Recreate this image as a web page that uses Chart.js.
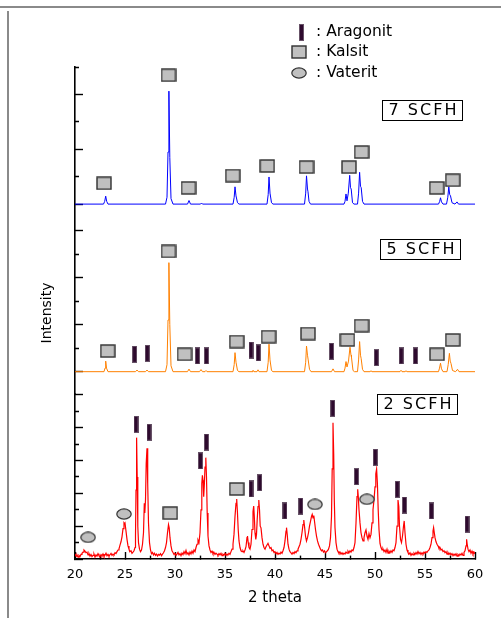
<!DOCTYPE html>
<html>
<head>
<meta charset="utf-8">
<title>XRD CaCO3</title>
<script src="https://cdn.jsdelivr.net/npm/chart.js@4.4.0/dist/chart.umd.min.js"></script>
<style>
  html, body { margin: 0; padding: 0; background: #fff; }
  #wrap { position: relative; width: 501px; height: 618px; overflow: hidden; }
  #frameTop { position: absolute; left: 0; top: 6px; width: 501px; height: 2px; background: #8a8a8a; }
  #frameLeft { position: absolute; left: 7px; top: 11px; width: 2px; height: 607px; background: #8a8a8a; }
  canvas { position: absolute; left: 0; top: 0; }
</style>
</head>
<body>
<div id="wrap">
  <div id="frameTop"></div>
  <div id="frameLeft"></div>
  <canvas id="xrdChart" width="501" height="618"></canvas>
</div>
<script>
// x axis: 2 theta
const xTickValues = [20, 22.5, 25, 27.5, 30, 32.5, 35, 37.5, 40, 42.5, 45, 47.5, 50, 52.5, 55, 57.5, 60];
const xTickLabels = ['20', '', '25', '', '30', '', '35', '', '40', '', '45', '', '50', '', '55', '', '60'];

// y ticks per panel (arbitrary intensity units)
const yTicks7 = [0, 1, 2, 3, 4, 5];
const yTicks5 = [0, 1, 2, 3, 4, 5, 6];
const yTicks2 = [0, 1, 2, 3, 4, 5, 6, 7, 8, 9, 10];
const yRange7 = [-0.97, 5];
const yRange5 = [-0.95, 6];
const yRange2 = [0, 10.06];

const panelNames = ['7 SCFH', '5 SCFH', '2 SCFH'];
const phaseNames = ['Aragonit', 'Kalsit', 'Vaterit'];

// diffractograms [2theta, intensity]
const scfh7 = [[20,0],[22.85,0],[22.97,0.1],[23.07,0.29],[23.17,0.1],[23.3,0],
  [29.05,0],[29.2,0.25],[29.3,1.9],[29.39,4.12],[29.48,1.7],[29.6,0.2],[29.8,0],
  [31.25,0],[31.4,0.13],[31.55,0],[32.55,0],[32.65,0.04],[32.75,0],
  [35.8,0],[35.92,0.25],[36.0,0.63],[36.1,0.3],[36.25,0.05],[36.4,0],
  [39.2,0],[39.32,0.35],[39.4,0.99],[39.5,0.4],[39.65,0.05],[39.8,0],
  [42.95,0],[43.07,0.4],[43.15,1.03],[43.25,0.55],[43.3,0.45],[43.4,0.1],[43.55,0],
  [46.9,0],[47.0,0.1],[47.1,0.37],[47.2,0.12],[47.33,0.4],[47.47,1.05],[47.55,0.6],[47.62,0.55],[47.75,0.05],[47.9,0],
  [48.25,0],[48.36,0.4],[48.46,1.16],[48.55,0.65],[48.62,0.6],[48.75,0.1],[48.9,0],
  [56.35,0],[56.47,0.1],[56.55,0.23],[56.65,0.08],[56.8,0],
  [57.15,0],[57.28,0.25],[57.38,0.63],[57.47,0.35],[57.55,0.3],[57.7,0.05],[58.0,0],[58.2,0.08],[58.35,0],[60,0]];

const scfh5 = [[20,0],[22.9,0],[23.0,0.15],[23.07,0.45],[23.15,0.15],[23.3,0],
  [26.05,0],[26.2,0.07],[26.35,0],[27.05,0],[27.2,0.07],[27.35,0],
  [29.05,0],[29.2,0.3],[29.3,2.2],[29.39,4.64],[29.48,2.0],[29.6,0.25],[29.8,0],
  [31.25,0],[31.4,0.11],[31.55,0],[32.45,0],[32.6,0.09],[32.75,0],[33.0,0],[33.1,0.05],[33.2,0],
  [35.8,0],[35.92,0.3],[36.0,0.81],[36.1,0.4],[36.25,0.05],[36.4,0],
  [37.7,0],[37.8,0.06],[37.9,0],[38.2,0],[38.3,0.08],[38.4,0],
  [39.2,0],[39.32,0.4],[39.4,1.17],[39.5,0.5],[39.65,0.05],[39.8,0],
  [42.95,0],[43.07,0.4],[43.15,1.09],[43.25,0.7],[43.32,0.5],[43.45,0.1],[43.6,0],
  [45.65,0],[45.8,0.12],[45.95,0],
  [46.9,0],[47.0,0.15],[47.1,0.43],[47.2,0.2],[47.35,0.45],[47.5,1.04],[47.6,0.7],[47.65,0.6],[47.8,0.05],[47.95,0],
  [48.25,0],[48.36,0.5],[48.46,1.28],[48.55,0.7],[48.62,0.55],[48.75,0.1],[48.9,0],
  [49.5,0],[49.6,0.04],[49.7,0],[52.5,0],[52.6,0.06],[52.7,0],[53.0,0],[53.1,0.04],[53.2,0],
  [56.35,0],[56.45,0.15],[56.55,0.36],[56.65,0.12],[56.8,0],
  [57.2,0],[57.32,0.3],[57.44,0.78],[57.52,0.45],[57.6,0.35],[57.75,0.05],[58.05,0],[58.25,0.1],[58.4,0],[60,0]];

const scfh2 = [[20.0,0.30],[20.1,0.18],[20.2,0.25],[20.3,0.12],[20.4,0.22],[20.5,0.15],[20.6,0.28],[20.7,0.35],[20.8,0.42],[20.9,0.55],
  [21.0,0.48],[21.1,0.38],[21.2,0.42],[21.3,0.25],[21.4,0.33],[21.5,0.18],[21.6,0.28],[21.7,0.15],[21.8,0.22],[21.9,0.30],
  [22.0,0.12],[22.1,0.25],[22.2,0.18],[22.3,0.32],[22.4,0.20],[22.5,0.14],[22.6,0.27],[22.7,0.19],[22.8,0.31],[22.9,0.16],
  [23.0,0.24],[23.1,0.35],[23.2,0.20],[23.3,0.28],[23.4,0.17],[23.5,0.26],[23.6,0.34],[23.7,0.22],[23.8,0.30],[23.9,0.25],
  [24.0,0.38],[24.1,0.33],[24.2,0.45],[24.3,0.55],[24.4,0.62],[24.5,0.85],[24.6,1.05],[24.7,1.35],[24.8,1.85],[24.9,2.2],
  [24.95,2.15],[25.0,2.2],[25.1,1.7],[25.2,1.2],[25.3,0.8],[25.4,0.6],[25.5,0.45],[25.6,0.5],[25.7,0.35],[25.8,0.42],
  [25.9,0.5],[26.0,0.7],[26.05,1.4],[26.1,4.2],[26.16,7.4],[26.22,5.0],[26.28,2.0],[26.35,1.0],[26.45,0.6],[26.55,0.45],
  [26.65,0.55],[26.75,0.9],[26.85,1.6],[26.93,3.4],[26.98,2.8],[27.05,3.6],[27.12,5.8],[27.2,6.75],[27.27,4.6],[27.35,2.2],
  [27.45,1.0],[27.55,0.55],[27.65,0.32],[27.75,0.4],[27.85,0.25],[27.95,0.35],[28.05,0.22],[28.15,0.3],[28.25,0.18],[28.35,0.28],
  [28.45,0.24],[28.55,0.33],[28.65,0.2],[28.75,0.3],[28.85,0.38],[28.95,0.5],[29.05,0.7],[29.15,1.0],[29.25,1.6],[29.35,2.1],
  [29.42,1.9],[29.5,1.3],[29.6,0.8],[29.7,0.5],[29.8,0.4],[29.9,0.28],[30.0,0.35],[30.1,0.22],[30.2,0.3],[30.3,0.4],
  [30.4,0.25],[30.5,0.33],[30.6,0.2],[30.7,0.36],[30.8,0.27],[30.9,0.45],[31.0,0.32],[31.1,0.52],[31.2,0.3],[31.3,0.38],
  [31.4,0.25],[31.5,0.42],[31.6,0.3],[31.7,0.48],[31.8,0.35],[31.9,0.55],[32.0,0.45],[32.1,0.7],[32.2,0.9],[32.3,1.15],
  [32.4,1.0],[32.5,1.6],[32.6,3.0],[32.68,4.6],[32.74,5.1],[32.8,4.8],[32.87,3.8],[32.94,4.6],[33.0,5.6],[33.08,6.18],
  [33.15,5.0],[33.22,2.8],[33.3,1.4],[33.4,0.8],[33.5,0.55],[33.6,0.4],[33.7,0.48],[33.8,0.32],[33.9,0.4],[34.0,0.28],
  [34.1,0.36],[34.2,0.3],[34.3,0.22],[34.4,0.33],[34.5,0.25],[34.6,0.35],[34.7,0.2],[34.8,0.3],[34.9,0.24],[35.0,0.34],
  [35.1,0.22],[35.2,0.3],[35.3,0.26],[35.4,0.35],[35.5,0.28],[35.6,0.45],[35.7,0.6],[35.8,0.9],[35.9,1.5],[36.0,2.6],
  [36.1,3.4],[36.17,3.66],[36.24,2.9],[36.32,1.8],[36.4,1.1],[36.5,0.7],[36.6,0.5],[36.7,0.45],[36.8,0.5],[36.9,0.4],
  [37.0,0.55],[37.1,0.75],[37.2,1.3],[37.25,1.4],[37.32,1.0],[37.4,0.7],[37.5,0.6],[37.6,0.9],[37.7,1.8],[37.8,2.9],
  [37.87,3.23],[37.93,2.6],[38.0,1.6],[38.08,1.2],[38.15,1.5],[38.22,2.4],[38.3,3.2],[38.38,3.6],[38.45,3.0],[38.52,2.0],
  [38.6,1.9],[38.7,1.3],[38.8,0.9],[38.9,0.7],[39.0,0.6],[39.1,0.75],[39.2,0.85],[39.3,0.95],[39.4,0.8],[39.5,0.65],
  [39.6,0.7],[39.7,0.5],[39.8,0.55],[39.9,0.4],[40.0,0.45],[40.1,0.32],[40.2,0.4],[40.3,0.28],[40.4,0.36],[40.5,0.3],
  [40.6,0.42],[40.7,0.35],[40.8,0.5],[40.9,0.7],[41.0,1.1],[41.1,1.7],[41.15,1.91],[41.22,1.5],[41.3,0.9],[41.4,0.6],
  [41.5,0.45],[41.6,0.38],[41.7,0.3],[41.8,0.4],[41.9,0.33],[42.0,0.45],[42.1,0.38],[42.2,0.5],[42.3,0.6],[42.4,0.75],
  [42.5,0.9],[42.6,1.2],[42.7,1.6],[42.8,2.1],[42.88,2.38],[42.95,2.0],[43.05,1.4],[43.15,1.1],[43.25,1.3],[43.35,1.6],
  [43.45,2.0],[43.55,2.3],[43.65,2.6],[43.72,2.72],[43.8,2.5],[43.88,2.65],[43.95,2.3],[44.05,1.8],[44.15,1.4],[44.25,1.1],
  [44.35,0.9],[44.45,0.75],[44.55,0.6],[44.65,0.5],[44.75,0.55],[44.85,0.42],[44.95,0.5],[45.05,0.38],[45.15,0.45],[45.25,0.5],
  [45.35,0.6],[45.45,0.8],[45.55,1.3],[45.65,2.6],[45.72,5.5],[45.8,8.31],[45.87,6.4],[45.93,3.6],[46.0,1.9],[46.1,1.0],
  [46.2,0.6],[46.3,0.45],[46.4,0.35],[46.5,0.42],[46.6,0.3],[46.7,0.38],[46.8,0.28],[46.9,0.36],[47.0,0.3],[47.1,0.42],
  [47.2,0.35],[47.3,0.48],[47.4,0.38],[47.5,0.5],[47.6,0.42],[47.7,0.55],[47.8,0.5],[47.9,0.7],[48.0,1.0],[48.1,2.2],
  [48.2,3.8],[48.27,4.25],[48.33,3.8],[48.4,3.0],[48.5,2.2],[48.6,1.6],[48.7,1.3],[48.8,1.1],[48.9,1.3],[49.0,1.6],
  [49.1,1.77],[49.2,1.4],[49.3,1.2],[49.4,1.55],[49.5,1.3],[49.6,1.5],[49.7,2.2],[49.8,3.0],[49.9,3.6],[50.0,4.4],
  [50.08,5.2],[50.16,5.49],[50.24,4.6],[50.32,3.0],[50.4,1.8],[50.5,0.95],[50.6,0.7],[50.7,0.55],[50.8,0.62],[50.9,0.45],
  [51.0,0.55],[51.1,0.4],[51.2,0.6],[51.3,0.35],[51.4,0.48],[51.5,0.38],[51.6,0.5],[51.7,0.4],[51.8,0.55],[51.9,0.5],
  [52.0,0.7],[52.1,1.0],[52.2,2.0],[52.3,3.6],[52.38,3.2],[52.45,2.0],[52.55,1.2],[52.65,1.0],[52.75,1.4],[52.85,2.0],
  [52.92,2.32],[53.0,1.6],[53.1,0.9],[53.2,0.55],[53.3,0.4],[53.4,0.3],[53.5,0.38],[53.6,0.22],[53.7,0.33],[53.8,0.25],
  [53.9,0.36],[54.0,0.28],[54.1,0.4],[54.2,0.3],[54.3,0.45],[54.4,0.32],[54.5,0.4],[54.6,0.28],[54.7,0.38],[54.8,0.3],
  [54.9,0.42],[55.0,0.35],[55.1,0.45],[55.2,0.4],[55.3,0.5],[55.4,0.55],[55.5,0.7],[55.6,0.9],[55.7,1.3],[55.8,1.7],
  [55.86,1.91],[55.93,1.6],[56.0,1.3],[56.1,1.05],[56.2,0.9],[56.3,0.8],[56.4,0.65],[56.5,0.7],[56.6,0.55],[56.7,0.6],
  [56.8,0.45],[56.9,0.5],[57.0,0.38],[57.1,0.45],[57.2,0.3],[57.3,0.4],[57.4,0.28],[57.5,0.36],[57.6,0.25],[57.7,0.33],
  [57.8,0.2],[57.9,0.3],[58.0,0.22],[58.1,0.32],[58.2,0.18],[58.3,0.28],[58.4,0.2],[58.5,0.3],[58.6,0.24],[58.7,0.35],
  [58.8,0.22],[58.9,0.4],[59.0,0.5],[59.1,0.8],[59.16,1.2],[59.22,0.9],[59.3,0.6],[59.4,0.45],[59.5,0.55],[59.6,0.35],
  [59.7,0.48],[59.8,0.3],[59.9,0.42],[60.0,0.3]];

// phase markers [2theta, height]
const kalsit7 = [[22.9,0.76],[29.35,4.7],[31.35,0.59],[35.77,1.04],[39.22,1.39],[43.15,1.35],[47.4,1.35],[48.66,1.9],[56.17,0.59],[57.77,0.87]];
const kalsit5 = [[23.27,0.88],[29.35,5.12],[30.95,0.74],[36.17,1.28],[39.36,1.49],[43.3,1.62],[47.24,1.35],[48.66,1.96],[56.2,0.74],[57.77,1.35]];
const aragonit5 = [[25.96,0.74],[27.23,0.78],[32.24,0.67],[33.14,0.67],[37.6,0.92],[38.33,0.8],[45.65,0.87],[50.13,0.6],[52.62,0.67],[54.05,0.67]];
const kalsit2 = [[29.52,2.8],[36.17,4.27]];
const vaterit2 = [[21.31,1.32],[24.9,2.74],[44.0,3.33],[49.19,3.64]];
const aragonit2 = [[26.1,8.21],[27.4,7.73],[32.54,5.98],[33.14,7.13],[37.6,4.27],[38.47,4.65],[40.99,2.93],[42.58,3.23],
  [45.77,9.19],[48.14,5.02],[50.03,6.2],[52.22,4.25],[52.95,3.29],[55.64,2.93],[59.2,2.13]];

const FONT = '"DejaVu Sans", "Liberation Sans", sans-serif';

function makeMarker(kind) {
    const c = document.createElement('canvas');
    if (kind === 'aragonit') {
        c.width = 5; c.height = 17;
        const g = c.getContext('2d');
        g.fillStyle = '#2e0a2e';
        g.fillRect(0, 0, 5, 17);
        g.strokeStyle = 'rgba(110,90,110,0.9)';
        g.lineWidth = 1;
        g.strokeRect(0.5, 0.5, 4, 16);
    } else if (kind === 'kalsit') {
        c.width = 16; c.height = 14;
        const g = c.getContext('2d');
        g.fillStyle = '#c0c0c0';
        g.fillRect(1, 1, 14, 12);
        g.strokeStyle = '#303030';
        g.lineWidth = 1.4;
        g.strokeRect(1, 1, 14, 12);
    } else {
        c.width = 16; c.height = 12;
        const g = c.getContext('2d');
        g.beginPath();
        g.ellipse(8, 6, 7.2, 5.1, 0, 0, Math.PI * 2);
        g.fillStyle = '#c0c0c0';
        g.fill();
        g.strokeStyle = '#303030';
        g.lineWidth = 1.2;
        g.stroke();
    }
    return c;
}

const markers = {
    aragonit: makeMarker('aragonit'),
    kalsit: makeMarker('kalsit'),
    vaterit: makeMarker('vaterit')
};

function trace(data, color, axis, width) {
    return { data: data, yAxisID: axis, showLine: true, borderColor: color, borderWidth: width,
             pointRadius: 0, tension: 0, order: 2 };
}

function marks(data, style, axis) {
    return { data: data, yAxisID: axis, showLine: false, pointStyle: style, pointRadius: 8, order: 1 };
}

function panelAxis(range, ticks, weight, order) {
    return {
        type: 'linear',
        position: 'left',
        stack: 'xrd',
        stackWeight: weight,
        weight: order,
        bounds: 'data',
        min: range[0],
        max: range[1],
        afterBuildTicks: s => { s.ticks = ticks.map(v => ({ value: v })); },
        afterFit: s => { s.width = 75; },
        ticks: { display: false },
        grid: {
            drawOnChartArea: false,
            tickLength: -8,
            tickColor: '#000',
            tickWidth: 1.4,
            tickBorderDash: c => (c.tick && c.tick.value % 2) ? [0, 4, 4, 40] : []
        },
        border: { color: '#000', width: 1.6 }
    };
}

// panel label boxes, legend and y title
const overlay = {
    id: 'overlay',
    afterDraw(chart) {
        const ctx = chart.ctx;
        const area = chart.chartArea;
        const x = chart.scales.x;
        const boxes = [
            { axis: 'y7', at: [54.65, 3.45] },
            { axis: 'y5', at: [54.5, 5.24] },
            { axis: 'y2', at: [54.15, 9.48] }
        ];
        ctx.save();
        boxes.forEach((b, i) => {
            const cx = Math.round(x.getPixelForValue(b.at[0]));
            const cy = Math.round(chart.scales[b.axis].getPixelForValue(b.at[1]));
            ctx.fillStyle = '#fff';
            ctx.fillRect(cx - 40, cy - 10, 81, 21);
            ctx.strokeStyle = '#000';
            ctx.lineWidth = 1;
            ctx.strokeRect(cx - 40 + 0.5, cy - 10 + 0.5, 80, 20);
            ctx.fillStyle = '#000';
            ctx.font = '16px ' + FONT;
            ctx.letterSpacing = '2px';
            ctx.textAlign = 'center';
            ctx.textBaseline = 'middle';
            ctx.fillText(panelNames[i], cx + 1.5, cy + 1);
        });
        ctx.letterSpacing = '0px';

        // legend
        const lx = area.left + 224;
        const rows = [area.top - 35, area.top - 15, area.top + 5.5];
        const syms = [markers.aragonit, markers.kalsit, markers.vaterit];
        ctx.font = '15.5px ' + FONT;
        ctx.textAlign = 'left';
        ctx.textBaseline = 'middle';
        ctx.fillStyle = '#000';
        phaseNames.forEach((name, i) => {
            const s = syms[i];
            const sx = i === 0 ? lx + 2 : lx;
            ctx.drawImage(s, Math.round(sx - s.width / 2), Math.round(rows[i] - s.height / 2));
            ctx.fillText(': ' + name, lx + 17, rows[i]);
        });

        // y axis title
        ctx.translate(area.left - 28, (area.top + area.bottom) / 2);
        ctx.rotate(-Math.PI / 2);
        ctx.font = '14px ' + FONT;
        ctx.textAlign = 'center';
        ctx.fillText('Intensity', 0, 0);
        ctx.restore();
    }
};

new Chart(document.getElementById('xrdChart'), {
    type: 'scatter',
    data: {
        datasets: [
            trace(scfh7, '#0000ff', 'y7', 1),
            trace(scfh5, '#ff8000', 'y5', 1),
            trace(scfh2, '#ff0000', 'y2', 1.2),
            marks(kalsit7, markers.kalsit, 'y7'),
            marks(kalsit5, markers.kalsit, 'y5'),
            marks(aragonit5, markers.aragonit, 'y5'),
            marks(kalsit2, markers.kalsit, 'y2'),
            marks(vaterit2, markers.vaterit, 'y2'),
            marks(aragonit2, markers.aragonit, 'y2')
        ]
    },
    options: {
        responsive: false,
        animation: false,
        events: [],
        layout: { padding: { top: 67, right: 26, bottom: 0, left: 0 } },
        plugins: {
            legend: { display: false },
            tooltip: { enabled: false }
        },
        scales: {
            x: {
                type: 'linear',
                position: 'bottom',
                min: 20,
                max: 60,
                bounds: 'data',
                afterBuildTicks: s => { s.ticks = xTickValues.map(v => ({ value: v })); },
                afterFit: s => { s.height = 59; },
                ticks: {
                    autoSkip: false,
                    maxRotation: 0,
                    padding: 15,
                    color: '#000',
                    font: { family: FONT, size: 13 },
                    callback: (v, i) => xTickLabels[i]
                },
                grid: {
                    drawOnChartArea: false,
                    tickLength: -7,
                    tickColor: '#000',
                    tickWidth: 1.4,
                    tickBorderDash: c => (c.tick && c.tick.value % 5) ? [4, 40] : []
                },
                border: { color: '#000', width: 1.6 },
                title: {
                    display: true,
                    text: '2 theta',
                    color: '#000',
                    font: { family: FONT, size: 15 },
                    padding: { top: 0, bottom: 11 }
                }
            },
            y7: panelAxis(yRange7, yTicks7, 163.7, 3),
            y5: panelAxis(yRange5, yTicks5, 163.3, 2),
            y2: panelAxis(yRange2, yTicks2, 165, 1)
        }
    },
    plugins: [overlay]
});
</script>
</body>
</html>
